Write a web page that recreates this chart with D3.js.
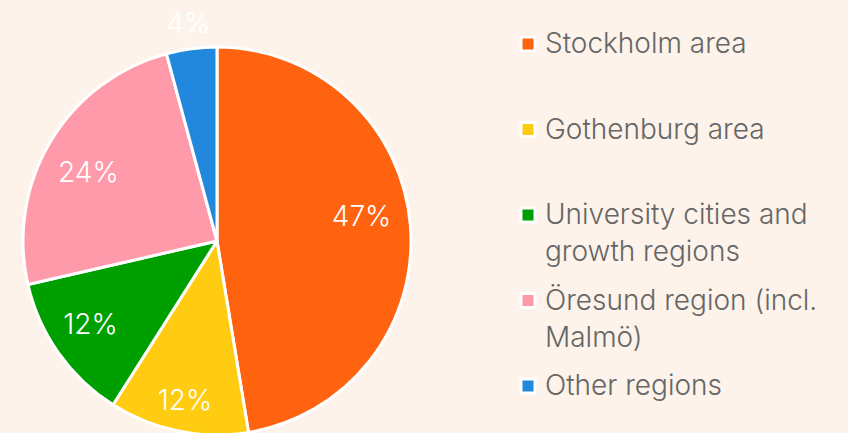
<!DOCTYPE html>
<html>
<head>
<meta charset="utf-8">
<style>
    body { margin: 0; background: #fdf3ea; }
    svg { display: block; }
    text { font-family: Inter, "Noto Sans", sans-serif; font-weight: 300; }
</style>
</head>
<body>
    <svg id="chart" width="848" height="433">
        <g id="pie" transform="translate(217, 241)"></g>
        <g id="legend" transform="translate(519, 0)"></g>
    </svg>
</body>
<script src="https://d3js.org/d3.v7.min.js"></script>
<script>
    // shares of the pie, percent
    const regions = ["Stockholm area", "Gothenburg area", "University cities and growth regions", "Öresund region (incl. Malmö)", "Other regions"];
    const shares = [47.4, 11.6, 12.4, 24.4, 4.2];
    const colors = ["#ff6310", "#ffcc11", "#009f00", "#ff9aab", "#2288dd"];

    const radius = 194;
    // labels sit on the centroid of a ring; small slices get pushed out
    const labelRadius = [145, 160, 155, 150, 220];
    const labelNudge = [-13, 2, -6, 8, 0];

    let data = regions.map((name, i) => ({ name: name, value: shares[i], color: colors[i], lr: labelRadius[i], dy: labelNudge[i] }));

    let pie = d3.pie().sort(null).value((d) => d.value);
    let arc = d3.arc().innerRadius(0).outerRadius(radius);
    let arcs = pie(data);

    let body = d3.select("#pie");
    body.selectAll("path").data(arcs)
        .enter()
        .append("path")
        .attr("d", arc)
        .attr("fill", (d) => d.data.color)
        .attr("stroke", "#fff")
        .attr("stroke-width", 3)
        .attr("stroke-linejoin", "round");

    body.selectAll("text").data(arcs)
        .enter()
        .append("text")
        .attr("transform", (d) => {
            let c = d3.arc().innerRadius(d.data.lr).outerRadius(d.data.lr).centroid(d);
            return "translate(" + c[0] + "," + (c[1] + d.data.dy) + ")";
        })
        .attr("text-anchor", "middle")
        .attr("dy", "0.35em")
        .attr("fill", "#fff")
        .style("font-size", "28px")
        .text((d) => Math.round(d.data.value) + "%");

    // legend, wrapped to the right edge
    let legend = d3.select("#legend");
    let itemY = d3.scaleLinear().domain([0, regions.length - 1]).range([53, 395]);
    let lineHeight = 37;
    let maxWidth = 290;

    data.forEach((d, i) => {
        let g = legend.append("g").attr("transform", "translate(0," + itemY(i) + ")");
        g.append("rect")
            .attr("x", 2).attr("y", -16)
            .attr("width", 14).attr("height", 14)
            .attr("fill", d.color)
            .attr("stroke", "#fff")
            .attr("stroke-width", 3);
        let t = g.append("text")
            .attr("x", 26)
            .attr("fill", "#666")
            .style("font-size", "28px");
        let words = d.name.split(" ");
        let line = [];
        let n = 0;
        let tspan = t.append("tspan").attr("x", 26).attr("y", 0);
        for (let w of words) {
            line.push(w);
            tspan.text(line.join(" "));
            if (tspan.node().getComputedTextLength() > maxWidth && line.length > 1) {
                line.pop();
                tspan.text(line.join(" "));
                line = [w];
                n++;
                tspan = t.append("tspan").attr("x", 26).attr("y", n * lineHeight).text(w);
            }
        }
    });
</script>
</html>
